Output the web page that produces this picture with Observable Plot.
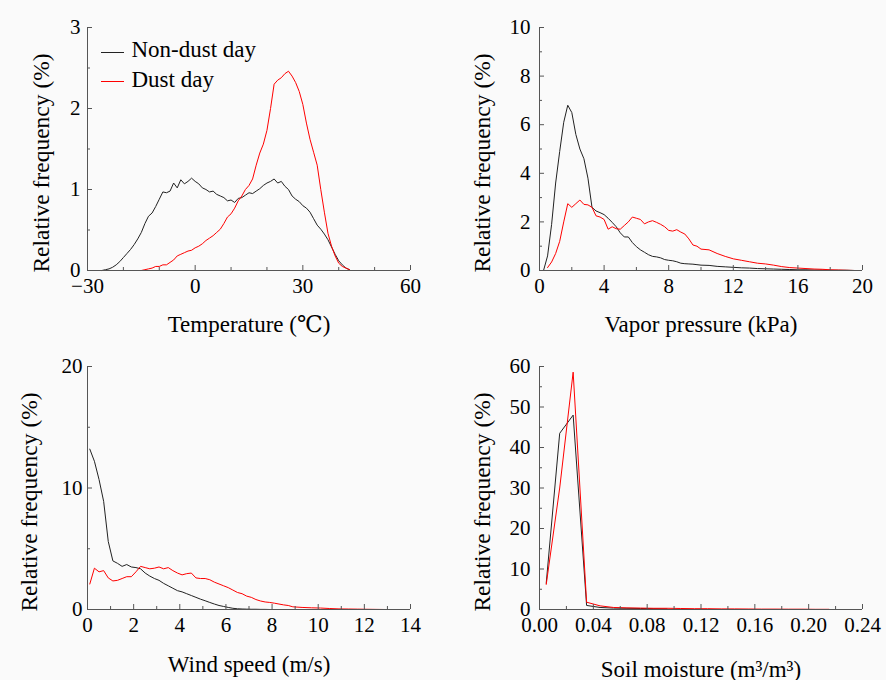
<!DOCTYPE html>
<html>
<head>
<meta charset="utf-8">
<script src="https://cdn.jsdelivr.net/npm/d3@7"></script>
<script src="https://cdn.jsdelivr.net/npm/@observablehq/plot@0.6"></script>
<style>
  body { margin: 0; background: #fafafa; }
  #grid { position: relative; width: 886px; height: 680px; }
  #grid svg { position: absolute; }
  #grid svg, #grid svg text { font-family: "Liberation Serif", "Tinos", "Times New Roman", "Nimbus Roman", "DejaVu Serif", serif !important; }
</style>
</head>
<body>
<div id="grid"></div>
<script>
// ---------- series ----------
const seriesNames = ["Non-dust day", "Dust day"];
const seriesColors = ["#222222", "#ff0000"];
const yTitle = "Relative frequency (%)";

// Temperature (°C), relative frequency (%)
const tempX = [-26,-25,-24,-23,-22,-21,-20,-19,-18,-17,-16,-15,-14,-13,-12,-11,-10,-9,-8,-7,-6,-5,-4,-3,-2,-1,0,1,2,3,4,5,6,7,8,9,10,11,12,13,14,15,16,17,18,19,20,21,22,23,24,25,26,27,28,29,30,31,32,33,34,35,36,37,38,39,40,41,42,43];
const tempNonDust = [0.00,0.01,0.02,0.04,0.07,0.11,0.16,0.21,0.26,0.32,0.39,0.47,0.58,0.67,0.71,0.79,0.88,0.97,0.96,0.98,1.08,1.02,1.12,1.07,1.10,1.14,1.10,1.07,1.02,1.00,0.97,0.98,0.94,0.92,0.90,0.86,0.87,0.84,0.89,0.90,0.93,0.96,0.95,0.98,1.01,1.05,1.08,1.10,1.13,1.08,1.10,1.04,1.00,0.92,0.88,0.85,0.80,0.77,0.72,0.64,0.56,0.51,0.45,0.38,0.29,0.20,0.12,0.07,0.03,0.01];
const tempDust = [null,null,null,null,null,null,null,null,null,null,null,0.00,0.01,0.02,0.03,0.05,0.05,0.07,0.07,0.10,0.13,0.18,0.20,0.22,0.24,0.25,0.28,0.30,0.33,0.37,0.40,0.43,0.47,0.51,0.58,0.66,0.70,0.77,0.86,0.92,1.00,1.05,1.13,1.30,1.45,1.56,1.73,2.00,2.30,2.35,2.38,2.43,2.46,2.40,2.32,2.21,2.05,1.82,1.62,1.46,1.30,1.00,0.72,0.46,0.30,0.18,0.09,0.05,0.03,0.01];

// Vapor pressure (kPa)
const vapX = [0.25,0.5,0.75,1,1.25,1.5,1.75,2,2.25,2.5,2.75,3,3.25,3.5,3.75,4,4.25,4.5,4.75,5,5.25,5.5,5.75,6,6.25,6.5,6.75,7,7.25,7.5,7.75,8,8.25,8.5,8.75,9,9.25,9.5,9.75,10,10.5,11,11.5,12,12.5,13,13.5,14,14.5,15,15.5,16,16.5,17,17.5,18,18.5,19,19.5];
const vapNonDust = [0.00,0.6,1.9,3.6,4.9,6.1,6.8,6.5,5.6,5.0,4.6,3.8,2.6,2.45,2.38,2.3,2.15,1.98,1.80,1.55,1.38,1.38,1.15,0.98,0.85,0.75,0.65,0.58,0.56,0.52,0.45,0.42,0.40,0.36,0.30,0.28,0.27,0.26,0.24,0.22,0.21,0.17,0.15,0.13,0.11,0.10,0.08,0.07,0.06,0.05,0.04,0.03,0.03,0.02,0.02,0.01,0.01,0.01,0.00];
const vapDust = [null,0.12,0.35,0.7,1.2,2.0,2.75,2.6,2.75,2.9,2.72,2.7,2.6,2.25,2.2,2.1,1.7,1.8,1.72,1.7,1.85,2.0,2.2,2.15,2.1,1.92,2.0,2.05,1.98,1.9,1.8,1.65,1.62,1.68,1.58,1.5,1.3,1.05,1.0,0.88,0.85,0.7,0.58,0.48,0.42,0.36,0.30,0.27,0.22,0.16,0.12,0.10,0.08,0.06,0.05,0.03,0.02,0.01,0.00];

// Wind speed (m/s)
const windX = [0.1,0.3,0.5,0.7,0.9,1.1,1.3,1.5,1.7,1.9,2.1,2.3,2.5,2.7,2.9,3.1,3.3,3.5,3.7,3.9,4.1,4.3,4.5,4.7,4.9,5.1,5.3,5.5,5.7,5.9,6.1,6.3,6.5,6.7,6.9,7.1,7.3,7.5,7.7,7.9,8.1,8.3,8.5,8.7,8.9,9.3,9.7,10.1,10.5,10.9,11.3,11.7,12.1,12.5,12.9];
const windNonDust = [13.2,12.2,10.7,8.9,5.6,4.0,3.8,3.55,3.7,3.5,3.45,3.35,3.0,2.75,2.55,2.4,2.15,1.95,1.75,1.55,1.45,1.3,1.15,1.0,0.85,0.72,0.58,0.45,0.33,0.25,0.17,0.10,0.06,0.04,0.03,0.02,0.02,0.01,0.01,0.0,null,null,null,null,null,null,null,null,null,null,null,null,null,null,null];
const windDust = [2.1,3.4,3.1,3.2,2.6,2.35,2.4,2.55,2.7,2.7,3.1,3.55,3.45,3.35,3.4,3.5,3.35,3.45,3.2,3.0,2.85,2.95,3.0,2.6,2.55,2.55,2.45,2.25,2.1,1.95,1.8,1.6,1.4,1.3,1.1,1.0,0.82,0.7,0.62,0.58,0.52,0.45,0.38,0.33,0.22,0.17,0.14,0.12,0.08,0.05,0.04,0.03,0.02,0.01,0.0];

// Soil moisture (m3/m3)
const soilX = [0.005,0.015,0.025,0.035,0.045,0.055,0.065,0.075,0.085,0.095,0.105,0.115,0.125,0.135,0.145,0.155,0.165,0.175,0.185,0.195,0.205,0.215];
const soilNonDust = [6.5,43.5,48.0,1.0,0.5,0.35,0.3,0.25,0.2,0.15,null,null,null,null,null,null,null,null,null,null,null,null];
const soilDust = [6.2,30.0,58.6,1.8,0.9,0.5,0.4,0.35,0.3,0.3,0.25,0.2,0.2,0.15,0.15,0.12,0.1,0.1,0.08,0.08,0.05,0.05];

// ---------- axes ----------
const tempXMajor = [-30, 0, 30, 60], tempXMinor = [-20, -10, 10, 20, 40, 50];
const tempYMajor = [0, 1, 2, 3], tempYMinor = [0.5, 1.5, 2.5];
const vapXMajor = [0, 4, 8, 12, 16, 20], vapXMinor = [2, 6, 10, 14, 18];
const vapYMajor = [0, 2, 4, 6, 8, 10], vapYMinor = [1, 3, 5, 7, 9];
const windXMajor = [0, 2, 4, 6, 8, 10, 12, 14], windXMinor = [1, 3, 5, 7, 9, 11, 13];
const windYMajor = [0, 10, 20], windYMinor = [5, 15];
const soilXMajor = [0, 0.04, 0.08, 0.12, 0.16, 0.20, 0.24], soilXMinor = [0.02, 0.06, 0.10, 0.14, 0.18, 0.22];
const soilYMajor = [0, 10, 20, 30, 40, 50, 60], soilYMinor = [5, 15, 25, 35, 45, 55];

function table(xs, a, b) {
  const rows = [];
  xs.forEach((x, i) => rows.push({x, y: a[i], s: seriesNames[0]}));
  xs.forEach((x, i) => rows.push({x, y: b[i], s: seriesNames[1]}));
  return rows;
}

const FONT = "Liberation Serif, Tinos, Times New Roman, Nimbus Roman, DejaVu Serif, serif";
const AXC = "#555";
const intFmt = d => (d < 0 ? "\u2212" + Math.abs(d) : String(d));

function panel(o) {
  const W = 443, H = 340;
  const pw = W - o.ml - o.mr, ph = H - o.mt - o.mb;
  const marks = [
    Plot.line(table(o.xs, o.a, o.b), {x: "x", y: "y", stroke: "s", strokeWidth: 1}),
    Plot.ruleY([o.yd[0]], {stroke: AXC}),
    Plot.ruleX([o.xd[0]], {stroke: AXC}),
    Plot.ruleX(o.xMajor, {stroke: AXC, insetTop: ph - 5}),
    Plot.ruleX(o.xMinor, {stroke: AXC, insetTop: ph - 3}),
    Plot.ruleY(o.yMajor, {stroke: AXC, insetRight: pw - 5}),
    Plot.ruleY(o.yMinor, {stroke: AXC, insetRight: pw - 3}),
    Plot.axisX(o.xMajor, {tickSize: 0, tickPadding: 8, tickFormat: o.fmt || intFmt, label: null, fontSize: 21}),
    Plot.axisY(o.yMajor, {tickSize: 0, tickPadding: o.ypad, tickFormat: intFmt, label: null, fontSize: 21}),
    Plot.text([o.xTitle], {text: d => d, frameAnchor: "bottom", textAnchor: "middle", lineAnchor: "bottom", dy: o.tdy, fontSize: 23}),
    Plot.text([yTitle], {text: d => d, frameAnchor: "left", rotate: -90, textAnchor: "middle", lineAnchor: "middle", dx: o.ydx, dy: 14, fontSize: 23.5})
  ];
  if (o.legend) {
    seriesNames.forEach((name, i) => {
      marks.push(Plot.ruleY([o.yd[0]], {stroke: () => name, strokeWidth: 1, insetLeft: 14, insetRight: pw - 37, dy: [-218, -189][i]}));
      marks.push(Plot.text([name], {text: d => d, frameAnchor: "top-left", textAnchor: "start", lineAnchor: "bottom", dx: 44, dy: [29, 59][i], fontSize: 23}));
    });
  }
  const svg = Plot.plot({
    width: W, height: H,
    marginLeft: o.ml, marginRight: o.mr, marginTop: o.mt, marginBottom: o.mb,
    x: {domain: o.xd},
    y: {domain: o.yd},
    color: {domain: seriesNames, range: seriesColors},
    style: {fontSize: "21px", background: "transparent", color: "#000", overflow: "visible"},
    marks
  });
  svg.setAttribute("font-family", FONT);
  svg.style.left = o.left + "px";
  svg.style.top = o.top + "px";
  document.getElementById("grid").appendChild(svg);
}

panel({xs: tempX, a: tempNonDust, b: tempDust, xd: [-30, 60], yd: [0, 3],
  xMajor: tempXMajor, xMinor: tempXMinor, yMajor: tempYMajor, yMinor: tempYMinor,
  xTitle: "Temperature (℃)", tdy: 61, ydx: -46, ypad: 7,
  left: 0, top: 0, ml: 87, mr: 33, mt: 27, mb: 70, legend: true});

panel({xs: vapX, a: vapNonDust, b: vapDust, xd: [0, 20], yd: [0, 10],
  xMajor: vapXMajor, xMinor: vapXMinor, yMajor: vapYMajor, yMinor: vapYMinor,
  xTitle: "Vapor pressure (kPa)", tdy: 61, ydx: -57, ypad: 9,
  left: 443, top: 0, ml: 96, mr: 24, mt: 27, mb: 70});

panel({xs: windX, a: windNonDust, b: windDust, xd: [0, 14], yd: [0, 20],
  xMajor: windXMajor, xMinor: windXMinor, yMajor: windYMajor, yMinor: windYMinor,
  xTitle: "Wind speed (m/s)", tdy: 62, ydx: -58, ypad: 5,
  left: 0, top: 340, ml: 87, mr: 33, mt: 26, mb: 71});

panel({xs: soilX, a: soilNonDust, b: soilDust, xd: [0, 0.24], yd: [0, 60],
  xMajor: soilXMajor, xMinor: soilXMinor, yMajor: soilYMajor, yMinor: soilYMinor,
  fmt: d3.format(".2f"),
  xTitle: "Soil moisture (m³/m³)", tdy: 67, ydx: -57, ypad: 9,
  left: 443, top: 340, ml: 96, mr: 24, mt: 26, mb: 71});
</script>
</body>
</html>
